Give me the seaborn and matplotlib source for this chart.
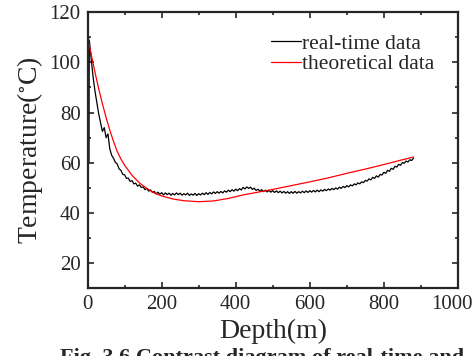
import numpy as np
import pandas as pd
import matplotlib.pyplot as plt
import matplotlib.transforms as mtransforms
import seaborn as sns
from matplotlib.ticker import MultipleLocator

sns.set_style("ticks")
plt.rcParams['font.family'] = ['Liberation Serif', 'DejaVu Serif']
plt.rcParams['mathtext.fontset'] = 'stix'

# real-time data: spike at the surface, then samples every 5 m
spike_depth = [0, 0.5, 1, 1.5, 2, 2.5, 3, 3.5, 4]
spike_temp = [20, 75, 30, 100, 45, 110, 60, 95, 106]
real_temp = [
    108.5, 101, 94, 88.5, 84, 79.5, 76, 72.5, 74, 70,
    71.5, 65.5, 63, 61.8, 60.2, 59.5, 57.6, 57, 55.4, 55.2,
    53.8, 53.9, 52.6, 52.9, 51.6, 51.9, 50.7, 51.2, 50.2, 50.4,
    49.3, 49.8, 48.7, 49.2, 48.2, 48.6, 47.6, 48.3, 47.5, 48.1,
    47.2, 48.0, 47.3, 47.9, 47.1, 47.8, 47.2, 48.0, 47.3, 47.9,
    47.1, 47.7, 47.2, 47.9, 47.0, 47.6, 47.1, 47.8, 47.0, 47.7,
    47.2, 47.9, 47.3, 48.1, 47.4, 48.2, 47.6, 48.4, 47.8, 48.5,
    47.9, 48.6, 48.0, 48.8, 48.3, 49.1, 48.5, 49.3, 48.7, 49.5,
    48.9, 49.7, 49.2, 50.2, 49.6, 50.4, 49.8, 50.3, 49.4, 49.9,
    49.0, 49.5, 48.7, 49.3, 48.5, 49.1, 48.4, 49.0, 48.3, 48.9,
    48.2, 48.8, 48.1, 48.7, 48.0, 48.6, 47.9, 48.5, 47.8, 48.5,
    47.9, 48.6, 47.9, 48.5, 48.0, 48.7, 48.1, 48.8, 48.2, 48.9,
    48.3, 49.0, 48.4, 49.1, 48.5, 49.2, 48.7, 49.4, 48.9, 49.6,
    49.1, 49.8, 49.3, 50.0, 49.5, 50.3, 49.8, 50.6, 50.1, 50.9,
    50.4, 51.2, 50.8, 51.6, 51.2, 52.0, 51.6, 52.4, 52.1, 53.0,
    52.7, 53.6, 53.2, 54.2, 53.8, 54.8, 54.3, 55.4, 55.1, 56.2,
    55.8, 57.0, 56.6, 57.8, 57.4, 58.6, 58.3, 59.4, 59.0, 60.1,
    59.8, 60.7, 60.3, 61.2, 60.9, 61.8,
]

# theoretical curve
theo_depth = [0, 10, 20, 30, 40, 50, 60, 70, 80, 90, 100, 120, 140, 160, 180,
              200, 230, 260, 300, 340, 380, 420, 460, 500, 550, 600, 650, 700,
              750, 800, 850, 880]
theo_temp = [110, 103, 96, 89.5, 83.5, 78, 73, 68.5, 64.5, 61.5, 59, 55, 52,
             49.8, 48, 46.8, 45.6, 44.9, 44.5, 44.8, 45.8, 47.2, 48.3, 49.4,
             50.9, 52.4, 54, 55.8, 57.5, 59.3, 61.2, 62.3]

x_ticks = [0, 200, 400, 600, 800, 1000]
y_ticks = [20, 40, 60, 80, 100, 120]

real_depth = spike_depth + [5 * (i + 1) for i in range(len(real_temp))]
real = pd.DataFrame({'depth': real_depth, 'temp': spike_temp + real_temp})
theo = pd.DataFrame({'depth': theo_depth, 'temp': theo_temp})

fig = plt.figure(figsize=(4.76, 3.56), dpi=100)
ax = fig.add_axes([0.184, 0.19, 0.778, 0.776])

sns.lineplot(x='depth', y='temp', data=real, ax=ax, color='black', lw=0.9,
             sort=False, estimator=None, label='real-time data')
sns.lineplot(x='depth', y='temp', data=theo, ax=ax, color='red', lw=0.9,
             sort=False, estimator=None, label='theoretical data')

ax.set_xlim(0, 1000)
ax.set_ylim(10, 120)
ax.set_xticks(x_ticks)
ax.set_yticks(y_ticks)
ax.xaxis.set_minor_locator(MultipleLocator(100))
ax.yaxis.set_minor_locator(MultipleLocator(10))
ax.tick_params(which='both', direction='in', top=True, right=True,
               width=1.2, labelsize=15, pad=5)
ax.tick_params(which='major', length=4)
ax.tick_params(which='minor', length=2.5)
for s in ax.spines.values():
    s.set_linewidth(1.6)

# last x label sits a little left of its tick, as in the original
for lab in ax.get_xticklabels():
    if lab.get_text() == '1000':
        lab.set_transform(lab.get_transform() +
                          mtransforms.ScaledTranslation(-0.06, 0, fig.dpi_scale_trans))

ax.set_xlabel('Depth(m)', fontsize=20, labelpad=3)
ax.set_ylabel('Temperature($^{\\circ}$C)', fontsize=20, labelpad=3)

ax.legend(loc='upper right', bbox_to_anchor=(0.965, 0.96), frameon=False,
          fontsize=15.5, handlelength=1.4, handletextpad=0.05,
          labelspacing=0, borderpad=0)

fig.text(0.125, 0.022, 'Fig. 3.6 Contrast diagram of real-time and',
         fontsize=16, fontweight='bold', va='top')

plt.savefig('out.png', dpi=100)
